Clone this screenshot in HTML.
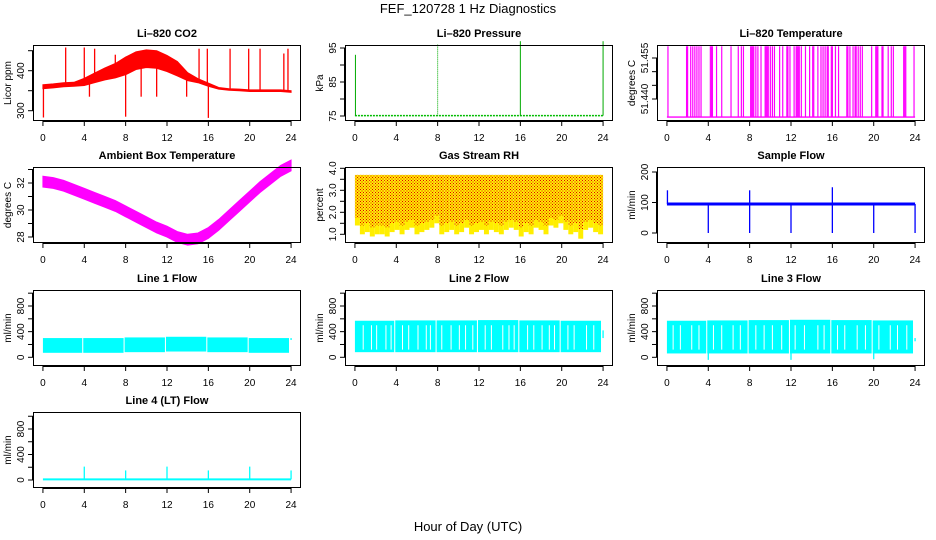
<!DOCTYPE html>
<html><head><meta charset="utf-8"><style>
html,body{margin:0;padding:0;background:#fff;}
svg{display:block;font-family:"Liberation Sans",Arial,sans-serif;}
</style></head><body>
<svg id="c" width="936" height="540" viewBox="0 0 936 540" xmlns="http://www.w3.org/2000/svg">
<defs>
<pattern id="dots" width="3" height="3" patternUnits="userSpaceOnUse"><rect x="0" y="0" width="1" height="1" fill="#e00000"/><rect x="1.5" y="1.5" width="1" height="1" fill="#e00000"/></pattern>
</defs>
<text x="468" y="13" text-anchor="middle" font-size="13">FEF_120728  1 Hz Diagnostics</text>
<text x="468" y="531" text-anchor="middle" font-size="13">Hour of Day (UTC)</text>
</svg>
<script>
// ---- data ----
const xTicks=[0,4,8,12,16,20,24];
const hours=[0,1,2,3,4,5,6,7,8,9,10,11,12,13,14,15,16,17,18,19,20,21,22,23,24];
const co2Base=[360,362,365,366,372,382,392,400,412,425,430,428,418,405,385,375,365,356,353,352,350,350,350,350,348];
const co2Amp=[5,5,5,5,9,12,15,18,22,22,22,22,20,18,10,5,4,2,2,2,2,2,2,2,2];
const co2SpikeT=[0.05,2.2,4.0,5.0,8.0,15.1,15.9,16.0,18.1,19.9,21.0,23.3,23.7,13.9,11.0,4.5,7.0,9.5];
const co2SpikeV=[283,458,458,455,285,455,455,282,455,455,455,443,455,335,335,335,440,335];
const presBase=75.1;
const presSpikeT=[0.05,8.0,16.0,24.0];
const presSpikeV=[93,96,97,97];
const tempBase=51.4334;
const tempTop=51.4593;
const tempSpikes=[0.1,1.9,2.0,2.3,2.5,2.7,2.9,3.1,3.3,4.2,4.3,4.4,4.8,5.3,6.2,6.9,7.2,7.4,8.1,8.2,8.3,8.4,8.6,8.8,9.1,9.5,9.6,9.7,9.8,10.0,10.2,10.4,10.9,11.2,11.6,11.7,11.9,12.3,12.5,12.6,12.7,12.8,13.0,13.4,13.8,14.1,14.2,14.6,14.9,15.1,15.3,15.5,15.6,15.9,16.0,16.3,16.6,17.4,17.5,17.7,18.0,18.2,18.3,18.5,18.7,18.9,19.8,20.2,20.3,20.4,20.8,20.9,21.4,21.7,21.9,22.9,23.0,23.1,23.9];
const ambCenter=[32.1,32.0,31.8,31.5,31.2,30.9,30.6,30.3,29.9,29.5,29.1,28.7,28.4,28.0,27.8,27.9,28.3,28.9,29.6,30.3,31.0,31.7,32.3,32.9,33.3];
const ambAmp=0.4;
const rhMax=3.7;
const rhMin=[1.4,1.0,1.1,0.9,1.0,1.0,0.9,1.1,1.2,1.0,1.2,1.3,1.0,1.1,1.2,1.3,1.5,1.0,1.1,1.2,1.0,1.1,1.3,1.0,1.1,1.2,1.0,1.2,1.1,1.0,1.2,1.3,1.2,0.9,1.1,1.0,1.3,1.2,1.0,1.4,1.3,1.5,1.2,1.0,1.1,0.8,1.2,1.3,1.1,1.0];
const sfBase=95;
const sfSpikeT=[0.05,4.0,8.0,8.0,12.0,16.0,16.0,20.0,24.0];
const sfSpikeV=[140,0,140,0,0,150,0,0,0];
const segStart=[0.0,3.9,7.9,11.9,15.9,19.9];
const segEnd=[3.8,7.8,11.8,15.8,19.8,23.8];
const l1Low=[70,70,80,90,80,70];
const l1High=[300,300,310,320,310,300];
const l2Low=[80,80,80,80,80,80];
const l2High=[570,575,575,580,575,570];
const l3Low=[60,60,60,60,60,60];
const l3High=[570,575,580,585,580,575];
const l2Gaps=[0.8,1.6,2.1,3.0,3.5,4.6,5.2,6.1,6.9,7.3,8.4,9.3,10.1,10.7,11.4,12.6,13.2,14.3,14.9,15.4,16.7,17.3,18.1,18.8,19.3,20.6,21.2,22.4,23.1];
const l3Gaps=[0.6,1.3,2.4,3.1,4.5,5.3,6.4,7.1,8.6,9.4,10.2,11.1,12.4,13.3,14.6,15.2,16.5,17.2,18.4,19.2,20.5,21.6,22.3,23.2];
const l3DipT=[4.0,12.0,20.0,24.0];
const l3DipV=[-40,-40,-30,250];
const l4SpikeT=[4.0,8.0,12.0,16.0,20.0,24.0];
const l4SpikeV=[210,150,210,150,210,150];
const l4Base=10;

const svg=document.getElementById('c');
const NS='http://www.w3.org/2000/svg';
function mk(tag,attrs,parent){const e=document.createElementNS(NS,tag);for(const k in attrs)e.setAttribute(k,attrs[k]);(parent||svg).appendChild(e);return e;}
const COLL=[33,345,657], ROWT=[45,167,290,412], BW=268, BH=76;

function makePanel(col,row,name,title,ylabel,yTicks,yLabels,v0,p0,v1,p1){
  const L=COLL[col],T=ROWT[row],B=T+BH;
  const g=mk('g',{});
  
  
  const xs=h=>L+(h+0.96)/25.92*BW;
  const ys=v=>T+p0+(v-v0)*(p1-p0)/(v1-v0);
  const plot=mk('g',{},g);
  
  
  const t=mk('text',{x:L+BW/2,y:T-8,'text-anchor':'middle','font-size':11,'font-weight':'bold'},g);
  t.textContent=title;
  
  
  const yl=mk('text',{x:0,y:0,'text-anchor':'middle','font-size':10,transform:`translate(${L-22},${T+BH/2}) rotate(-90)`},g);
  yl.textContent=ylabel;
  
  
  const ax=mk('g',{stroke:'#000','stroke-width':1},g);
  
  
  mk('line',{x1:xs(0),x2:xs(24),y1:B+0.5,y2:B+0.5},ax);
  xTicks.forEach(h=>{
    mk('line',{x1:xs(h),x2:xs(h),y1:B,y2:B+5},ax);
    const tx=mk('text',{x:xs(h),y:B+20,'text-anchor':'middle','font-size':10,stroke:'none'},g);
    tx.textContent=String(h);
    
    
  });
  const ya=ys(yTicks[0]),yb=ys(yTicks[yTicks.length-1]);
  mk('line',{x1:L-0.5,x2:L-0.5,y1:ya,y2:yb},ax);
  yTicks.forEach(v=>{mk('line',{x1:L-5,x2:L,y1:ys(v),y2:ys(v)},ax);});
  yLabels.forEach(v=>{
    const s=typeof v==='number'?String(v):v;
    const val=parseFloat(s);
    const tl=mk('text',{x:0,y:0,'text-anchor':'middle','font-size':10,transform:`translate(${L-9},${ys(val)}) rotate(-90)`},g);
    tl.textContent=s;
    
    
  });
  mk('rect',{x:L+0.5,y:T+0.5,width:BW-1,height:BH-1,fill:'none',stroke:'#000'},g);
  return {plot,xs,ys,L,T,B};
}

// CO2
(function(){
  const p=makePanel(0,0,'co2','Li–820 CO2','Licor ppm',[300,350,400,450],['300','400'],400,25.7,300,65.7);
  let pts=hours.map((h,i)=>p.xs(h)+','+p.ys(co2Base[i]+co2Amp[i])).concat(hours.slice().reverse().map((h,j)=>{const i=hours.length-1-j;return p.xs(h)+','+p.ys(co2Base[i]-co2Amp[i]);}));
  const band=mk('polygon',{points:pts.join(' '),fill:'#ff0000',stroke:'#ff0000','stroke-width':1},p.plot);
  
  
  co2SpikeT.forEach((t,i)=>{
    const bi=Math.min(24,Math.round(t));
    const l=mk('line',{x1:p.xs(t),x2:p.xs(t),y1:p.ys(co2Base[bi]),y2:p.ys(co2SpikeV[i]),stroke:'#ff0000','stroke-width':1.3},p.plot);
    
    
  });
})();
// Pressure
(function(){
  const p=makePanel(1,0,'pressure','Li–820 Pressure','kPa',[75,80,85,90,95],['75','85','95'],75,71,95,3);
  const l=mk('line',{x1:p.xs(0),x2:p.xs(24),y1:p.ys(presBase),y2:p.ys(presBase),stroke:'#00bb00','stroke-width':1.5,'stroke-dasharray':'2,1'},p.plot);
  
  
  presSpikeT.forEach((t,i)=>{
    const s=mk('line',{x1:p.xs(t),x2:p.xs(t),y1:p.ys(presBase),y2:p.ys(presSpikeV[i]),stroke:'#00aa00','stroke-width':1,'stroke-dasharray':i==1?'1,1':'none'},p.plot);
    
    
  });
})();
// Temperature
(function(){
  const p=makePanel(2,0,'li820-temp','Li–820 Temperature','degrees C',[51.44,51.445,51.45,51.455],['51.440','51.455'],51.44,54,51.455,13);
  const l=mk('line',{x1:p.xs(0),x2:p.xs(24),y1:p.ys(tempBase),y2:p.ys(tempBase),stroke:'#ff00ff','stroke-width':1.3},p.plot);
  
  
  tempSpikes.forEach(t=>{
    const s=mk('line',{x1:p.xs(t),x2:p.xs(t),y1:p.ys(tempBase),y2:p.ys(tempTop),stroke:'#ff00ff','stroke-width':1.2},p.plot);
    
    
  });
})();
// Ambient
(function(){
  const p=makePanel(0,1,'ambient','Ambient Box Temperature','degrees C',[28,29,30,31,32,33],['28','30','32'],32,16,28,70);
  let pts=hours.map((h,i)=>p.xs(h)+','+p.ys(ambCenter[i]+ambAmp)).concat(hours.slice().reverse().map((h,j)=>{const i=hours.length-1-j;return p.xs(h)+','+p.ys(ambCenter[i]-ambAmp);}));
  const band=mk('polygon',{points:pts.join(' '),fill:'#ff00ff',stroke:'#ff00ff'},p.plot);
  
  
})();
// RH
(function(){
  const p=makePanel(1,1,'gas-rh','Gas Stream RH','percent',[1,1.5,2,2.5,3,3.5,4],['1.0','2.0','3.0','4.0'],4,1.3,1,67.3);
  const n=rhMin.length, dt=24/n;
  rhMin.forEach((m,i)=>{
    const x0=p.xs(i*dt), x1=p.xs((i+1)*dt);
    const y=mk('rect',{x:x0,y:p.ys(rhMax),width:x1-x0,height:p.ys(m)-p.ys(rhMax),fill:'#ffee00'},p.plot);
    
    
    const r=mk('rect',{x:x0,y:p.ys(rhMax),width:x1-x0,height:(p.ys(m)-p.ys(rhMax))*0.85,fill:'url(#dots)'},p.plot);
    
    
  });
})();
// Sample flow
(function(){
  const p=makePanel(2,1,'sample-flow','Sample Flow','ml/min',[0,100,200],['0','100','200'],0,66,200,5);
  const l=mk('line',{x1:p.xs(0),x2:p.xs(24),y1:p.ys(sfBase),y2:p.ys(sfBase),stroke:'#0000ff','stroke-width':3},p.plot);
  
  
  sfSpikeT.forEach((t,i)=>{
    const s=mk('line',{x1:p.xs(t),x2:p.xs(t),y1:p.ys(sfBase),y2:p.ys(sfSpikeV[i]),stroke:'#0000ff','stroke-width':1.3},p.plot);
    
    
  });
})();
// Line flows
function linePanel(col,row,name,title,low,high,gaps,dipT,dipV){
  const p=makePanel(col,row,name,title,'ml/min',[0,200,400,600,800,1000],['0','400','800'],0,67.3,800,16);
  segStart.forEach((s,i)=>{
    const r=mk('rect',{x:p.xs(s),y:p.ys(high[i]),width:p.xs(segEnd[i])-p.xs(s),height:p.ys(low[i])-p.ys(high[i]),fill:'#00ffff'},p.plot);
    
    
  });
  gaps.forEach(t=>{
    const g=mk('line',{x1:p.xs(t),x2:p.xs(t),y1:p.ys(500),y2:p.ys(120),stroke:'#ffffff','stroke-width':1},p.plot);
    
    
  });
  dipT.forEach((t,i)=>{
    const d=mk('line',{x1:p.xs(t),x2:p.xs(t),y1:p.ys(300),y2:p.ys(dipV[i]),stroke:'#00ffff','stroke-width':1.3},p.plot);
    
    
  });
}
linePanel(0,2,'line1-flow','Line 1 Flow',l1Low,l1High,[],[24],[270]);
linePanel(1,2,'line2-flow','Line 2 Flow',l2Low,l2High,l2Gaps,[24],[420]);
linePanel(2,2,'line3-flow','Line 3 Flow',l3Low,l3High,l3Gaps,l3DipT,l3DipV);
(function(){
  const p=makePanel(0,3,'line4-flow','Line 4 (LT) Flow','ml/min',[0,200,400,600,800,1000],['0','400','800'],0,68,800,17);
  const l=mk('line',{x1:p.xs(0),x2:p.xs(24),y1:p.ys(l4Base),y2:p.ys(l4Base),stroke:'#00ffff','stroke-width':2},p.plot);
  
  
  l4SpikeT.forEach((t,i)=>{
    const s=mk('line',{x1:p.xs(t),x2:p.xs(t),y1:p.ys(l4Base),y2:p.ys(l4SpikeV[i]),stroke:'#00ffff','stroke-width':1.3},p.plot);
    
    
  });
})();
</script>
</body></html>
